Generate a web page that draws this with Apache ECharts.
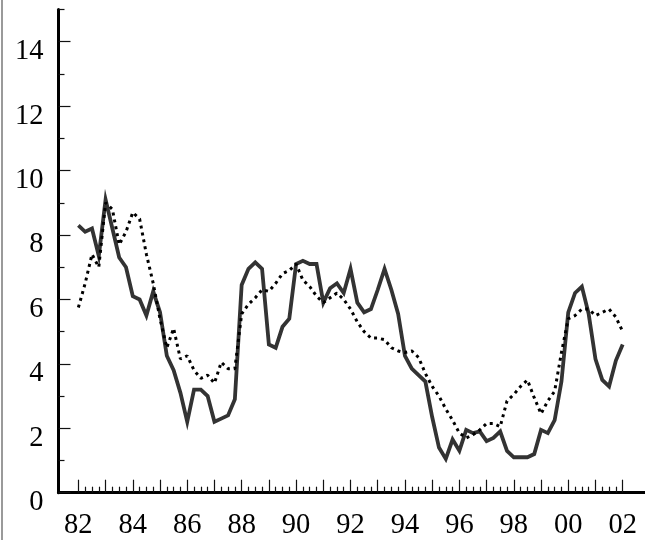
<!DOCTYPE html>
<html>
<head>
<meta charset="utf-8">
<script src="https://cdn.jsdelivr.net/npm/echarts@6/dist/echarts.min.js"></script>
<style>
  html, body { margin: 0; padding: 0; background: #fff; }
  #wrap { position: relative; width: 645px; height: 540px; }
  #chart { width: 645px; height: 540px; }
  #edge { position: absolute; left: 1px; top: 0; width: 2px; height: 540px; background: #9a9a9a; }
</style>
</head>
<body>
<div id="wrap">
  <div id="chart"></div>
  <div id="edge"></div>
</div>
<script>
// quarterly values, 1982Q1 .. 2002Q1
const startYear = 1982;
const solidValues = [
  8.3, 8.1, 8.2, 7.35, 9.1, 8.2, 7.3, 7.0, 6.1, 6.0, 5.5, 6.25, 5.6, 4.25, 3.8, 3.1,
  2.2, 3.2, 3.2, 3.0, 2.2, 2.3, 2.4, 2.9, 6.45, 6.95, 7.15, 6.95, 4.6, 4.5, 5.15, 5.4,
  7.1, 7.2, 7.1, 7.1, 5.9, 6.35, 6.5, 6.2, 6.95, 5.9, 5.6, 5.7, 6.3, 6.95, 6.3, 5.55,
  4.25, 3.85, 3.65, 3.45, 2.35, 1.4, 1.05, 1.65, 1.3, 1.95, 1.85, 1.9, 1.6, 1.7, 1.9, 1.3,
  1.1, 1.1, 1.1, 1.2, 1.95, 1.85, 2.25, 3.45, 5.6, 6.2, 6.4, 5.55, 4.15, 3.5, 3.3, 4.1,
  4.6
];
const dottedValues = [
  5.75, 6.5, 7.4, 7.0, 9.0, 8.8, 7.7, 8.1, 8.7, 8.5, 7.4, 6.5, 5.4, 4.5, 5.1, 4.15,
  4.25, 3.8, 3.55, 3.65, 3.4, 4.05, 3.85, 3.85, 5.55, 5.85, 6.05, 6.3, 6.25, 6.5, 6.8, 6.9,
  7.1, 6.6, 6.4, 6.1, 5.9, 6.05, 6.2, 6.0, 5.7, 5.3, 5.0, 4.8, 4.8, 4.75, 4.5, 4.4,
  4.35, 4.4, 4.2, 3.7, 3.3, 3.0, 2.6, 2.25, 1.85, 1.7, 1.8, 1.95, 2.15, 2.15, 2.05, 2.85,
  3.05, 3.3, 3.5, 2.95, 2.45, 2.85, 3.15, 4.35, 5.4, 5.5, 5.7, 5.7, 5.5, 5.6, 5.7, 5.45,
  5.0
];
const xLabelYears = [1982, 1984, 1986, 1988, 1990, 1992, 1994, 1996, 1998, 2000, 2002];
const yLabelValues = [0, 2, 4, 6, 8, 10, 12, 14];
const yMinorValues = [1, 3, 5, 7, 9, 11, 13, 15];

const yearTicks = [];
const quarterTicks = [];
for (let y = 1982; y <= 2002; y++) {
  yearTicks.push(y);
  if (y < 2002) quarterTicks.push(y + 0.25, y + 0.5, y + 0.75);
}

function toPairs(values) {
  return values.map((v, i) => [startYear + i / 4, v]);
}

const chart = echarts.init(document.getElementById('chart'));
const fontFamily = '"Liberation Serif", "Times New Roman", serif';
const xMin = 1981.27, xMax = 2002.82;

const option = {
  animation: false,
  backgroundColor: '#fff',
  grid: { left: 58.5, right: 0, top: 9.5, bottom: 47.3, containLabel: false, outerBoundsMode: 'none' },
  xAxis: [
    {
      type: 'value',
      min: xMin,
      max: xMax,
      axisLine: { show: true, onZero: false, lineStyle: { color: '#000', width: 3 } },
      axisTick: { show: true, inside: true, length: 13, customValues: yearTicks, lineStyle: { color: '#111', width: 1.2 } },
      axisLabel: {
        customValues: xLabelYears,
        formatter: v => String(Math.round(v) % 100).padStart(2, '0'),
        fontFamily: fontFamily,
        fontSize: 28.5,
        color: '#000',
        margin: 18
      },
      splitLine: { show: false }
    },
    {
      type: 'value',
      min: xMin,
      max: xMax,
      position: 'bottom',
      axisLine: { show: false },
      axisTick: { show: true, inside: true, length: 6, customValues: quarterTicks, lineStyle: { color: '#111', width: 1.2 } },
      axisLabel: { show: false },
      splitLine: { show: false }
    }
  ],
  yAxis: [
    {
      type: 'value',
      min: 0,
      max: 15,
      axisLine: { show: true, onZero: false, lineStyle: { color: '#000', width: 3 } },
      axisTick: { show: true, inside: true, length: 12, customValues: yLabelValues, lineStyle: { color: '#111', width: 1.2 } },
      axisLabel: {
        customValues: yLabelValues,
        fontFamily: fontFamily,
        fontSize: 28.5,
        color: '#000',
        margin: 15,
        verticalAlign: 'top',
        lineHeight: 20
      },
      splitLine: { show: false }
    },
    {
      type: 'value',
      min: 0,
      max: 15,
      position: 'left',
      axisLine: { show: false },
      axisTick: { show: true, inside: true, length: 6, customValues: yMinorValues, lineStyle: { color: '#111', width: 1.2 } },
      axisLabel: { show: false },
      splitLine: { show: false }
    }
  ],
  series: [
    {
      name: 'solid',
      type: 'line',
      xAxisIndex: 0,
      yAxisIndex: 0,
      showSymbol: false,
      lineStyle: { color: '#333', width: 3.8, join: 'miter' },
      data: toPairs(solidValues)
    },
    {
      name: 'dotted',
      type: 'line',
      xAxisIndex: 0,
      yAxisIndex: 0,
      showSymbol: false,
      lineStyle: { color: '#000', width: 3, type: [3, 4] },
      data: toPairs(dottedValues)
    }
  ]
};

chart.setOption(option);
</script>
</body>
</html>
